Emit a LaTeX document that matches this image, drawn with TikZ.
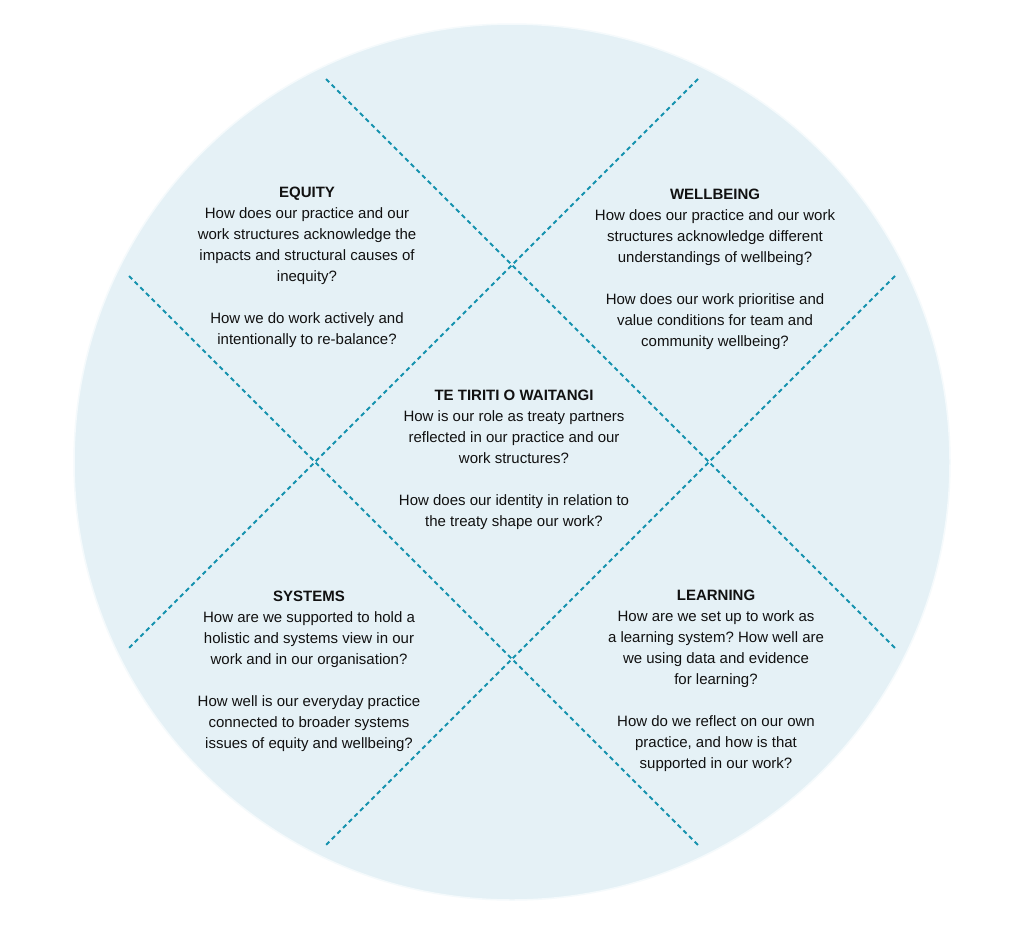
\documentclass[tikz,border=0pt]{standalone}
\usepackage{fontspec}
\setmainfont{Liberation Sans}
\frenchspacing
\definecolor{circfill}{HTML}{E5F1F6}
\definecolor{ringc}{HTML}{F5FAFC}
\definecolor{dashc}{HTML}{1592AE}
\definecolor{txt}{HTML}{111111}
\begin{document}
\begin{tikzpicture}[x=1pt,y=-1pt,
  dashline/.style={draw=dashc, line width=1.8pt, dash pattern=on 4.5pt off 3.5pt},
  qtext/.style={align=center, text=txt, font=\fontsize{15}{21}\selectfont, inner sep=0pt},
]
\useasboundingbox (0,0) rectangle (1024,924);
\fill[white] (0,0) rectangle (1024,924);
\node[circle, fill=circfill, draw=ringc, line width=1.5pt, minimum size=876pt, inner sep=0pt] (circ) at (512,462) {};

\coordinate (a1) at (326,79);
\coordinate (a2) at (895,648);
\coordinate (b1) at (698,79);
\coordinate (b2) at (129,648);
\coordinate (c1) at (129,276);
\coordinate (c2) at (698,845);
\coordinate (d1) at (895,276);
\coordinate (d2) at (326,845);
\draw[dashline] (a1) -- (a2);
\draw[dashline] (b1) -- (b2);
\draw[dashline] (c1) -- (c2);
\draw[dashline] (d1) -- (d2);

\node[qtext] (equity) at (307,267) {\textbf{EQUITY}\\How does our practice and our\\work structures acknowledge the\\impacts and structural causes of\\inequity?\\[21pt]How we do work actively and\\intentionally to re-balance?};

\node[qtext] (wellbeing) at (715,269) {\textbf{WELLBEING}\\How does our practice and our work\\structures acknowledge different\\understandings of wellbeing?\\[21pt]How does our work prioritise and\\value conditions for team and\\community wellbeing?};

\node[qtext] (tiriti) at (514,460) {\textbf{TE TIRITI O WAITANGI}\\How is our role as treaty partners\\reflected in our practice and our\\work structures?\\[21pt]How does our identity in relation to\\the treaty shape our work?};

\node[qtext] (systems) at (309,671) {\textbf{SYSTEMS}\\How are we supported to hold a\\holistic and systems view in our\\work and in our organisation?\\[21pt]How well is our everyday practice\\connected to broader systems\\issues of equity and wellbeing?};

\node[qtext] (learning) at (716,681) {\textbf{LEARNING}\\How are we set up to work as\\a learning system? How well are\\we using data and evidence\\for learning?\\[21pt]How do we reflect on our own\\practice, and how is that\\supported in our work?};
\end{tikzpicture}
\end{document}
